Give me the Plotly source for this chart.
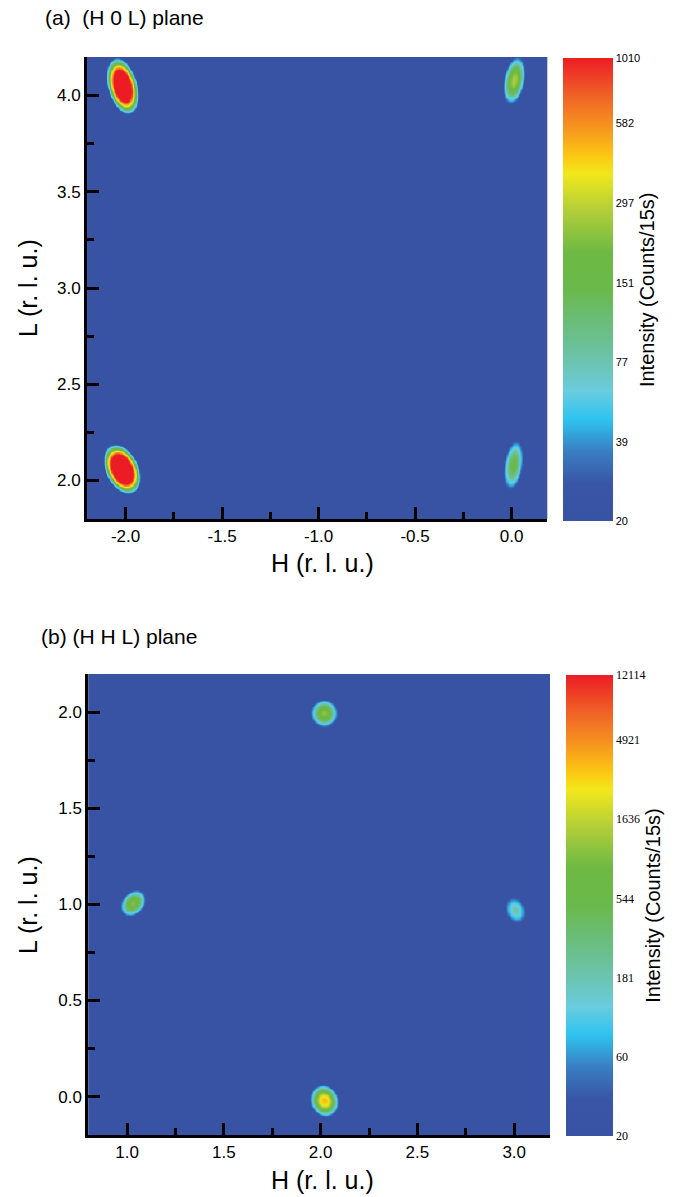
import numpy as np
import plotly.graph_objects as go

# ---------------- data ----------------
# Panel (a): (H 0 L) plane -- Bragg peaks
peak_H_a = [-2.017, -2.020, 0.012, 0.008]
peak_L_a = [4.050, 2.060, 4.080, 2.082]
peak_amp_a = [6000, 8000, 270, 150]
peak_sig_major_a = [0.045, 0.040, 0.055, 0.064]
peak_sig_minor_a = [0.023, 0.025, 0.024, 0.024]
peak_tilt_a = [-15, -25, 10, 8]          # degrees from vertical, + = top leans right
background_a = 5

# Panel (b): (H H L) plane -- Bragg peaks
peak_H_b = [2.017, 1.030, 3.005, 2.018]
peak_L_b = [1.997, 1.008, 0.972, -0.020]
peak_amp_b = [1100, 1000, 180, 3500]
peak_sig_major_b = [0.026, 0.028, 0.034, 0.027]
peak_sig_minor_b = [0.025, 0.021, 0.025, 0.023]
peak_tilt_b = [0, 40, -20, -20]
background_b = 5

# axis ranges and tick labels
H_range_a = [-2.2, 0.185]
L_range_a = [1.8, 4.2]
H_range_b = [0.8, 3.185]
L_range_b = [-0.2, 2.2]
H_ticks_a = [-2.0, -1.5, -1.0, -0.5, 0.0]
H_ticklabels_a = ["-2.0", "-1.5", "-1.0", "-0.5", "0.0"]
L_ticks_a = [2.0, 2.5, 3.0, 3.5, 4.0]
L_ticklabels_a = ["2.0", "2.5", "3.0", "3.5", "4.0"]
H_ticks_b = [1.0, 1.5, 2.0, 2.5, 3.0]
H_ticklabels_b = ["1.0", "1.5", "2.0", "2.5", "3.0"]
L_ticks_b = [0.0, 0.5, 1.0, 1.5, 2.0]
L_ticklabels_b = ["0.0", "0.5", "1.0", "1.5", "2.0"]

# colour bar ticks (log-scaled intensity)
cbar_ticks_a = [20, 39, 77, 151, 297, 582, 1010]
cbar_ticks_b = [20, 60, 181, 544, 1636, 4921, 12114]

title_a = "(a)  (H 0 L) plane"
title_b = "(b) (H H L) plane"
x_title = "H (r. l. u.)"
y_title = "L (r. l. u.)"
cbar_title = "Intensity (Counts/15s)"

# ---------------- build maps ----------------
def intensity_map(hr, lr, H, L, A, smaj, smin, tilt, bg, n=361):
    hx = np.linspace(hr[0], hr[1], n)
    ly = np.linspace(lr[0], lr[1], n)
    X, Y = np.meshgrid(hx, ly)
    I = np.full_like(X, float(bg))
    for h0, l0, a, sa, sb, t in zip(H, L, A, smaj, smin, tilt):
        th = np.deg2rad(t)
        dx, dy = X - h0, Y - l0
        u = dx * np.sin(th) + dy * np.cos(th)
        v = dx * np.cos(th) - dy * np.sin(th)
        I += a * np.exp(-0.5 * ((u / sa) ** 2 + (v / sb) ** 2))
    return hx, ly, I

hx_a, ly_a, I_a = intensity_map(H_range_a, L_range_a, peak_H_a, peak_L_a, peak_amp_a,
                                peak_sig_major_a, peak_sig_minor_a, peak_tilt_a, background_a)
hx_b, ly_b, I_b = intensity_map(H_range_b, L_range_b, peak_H_b, peak_L_b, peak_amp_b,
                                peak_sig_major_b, peak_sig_minor_b, peak_tilt_b, background_b)

zmin_a, zmax_a = np.log10(cbar_ticks_a[0]), np.log10(cbar_ticks_a[-1])
zmin_b, zmax_b = np.log10(cbar_ticks_b[0]), np.log10(cbar_ticks_b[-1])
Z_a = np.clip(np.log10(I_a), zmin_a, zmax_a)
Z_b = np.clip(np.log10(I_b), zmin_b, zmax_b)

colorscale = [
    [0.00, "#3953a4"],
    [0.08, "#3955a6"],
    [0.15, "#3a7ec2"],
    [0.22, "#2ec4f0"],
    [0.28, "#6accdf"],
    [0.36, "#6cc2a4"],
    [0.43, "#6abd78"],
    [0.50, "#6ab94c"],
    [0.58, "#6eb944"],
    [0.67, "#b1ce39"],
    [0.75, "#f1e81b"],
    [0.79, "#fcc612"],
    [0.85, "#f6951f"],
    [0.92, "#ef6126"],
    [1.00, "#ec1c24"],
]

# page is 680x1197; the body margin is removed by a post script so page px = figure px
W, Hgt = 680, 1197
SANS = "Liberation Sans, Arial, sans-serif"
SERIF = "Liberation Serif, Times New Roman, serif"

def px_x(p):
    return p / W

def px_y(p):
    return 1 - p / Hgt

fig = go.Figure()

fig.add_trace(go.Heatmap(
    x=hx_a, y=ly_a, z=Z_a, zmin=zmin_a, zmax=zmax_a, zsmooth="best",
    colorscale=colorscale, xaxis="x", yaxis="y", hoverinfo="skip",
    colorbar=dict(
        x=px_x(563), xanchor="left", xpad=0,
        y=px_y(58.3), yanchor="top", ypad=0,
        len=463, lenmode="pixels", thickness=50,
        outlinewidth=0, ticks="", ticklen=0,
        tickvals=list(np.log10(cbar_ticks_a)), ticktext=[str(t) for t in cbar_ticks_a],
        tickfont=dict(family=SANS, size=11, color="black"),
        title=dict(text=cbar_title, side="right", font=dict(family=SANS, size=20, color="black")),
    ),
))

fig.add_trace(go.Heatmap(
    x=hx_b, y=ly_b, z=Z_b, zmin=zmin_b, zmax=zmax_b, zsmooth="best",
    colorscale=colorscale, xaxis="x2", yaxis="y2", hoverinfo="skip",
    colorbar=dict(
        x=px_x(566), xanchor="left", xpad=0,
        y=px_y(675), yanchor="top", ypad=0,
        len=461, lenmode="pixels", thickness=47,
        outlinewidth=0, ticks="", ticklen=0,
        tickvals=list(np.log10(cbar_ticks_b)), ticktext=[str(t) for t in cbar_ticks_b],
        tickfont=dict(family=SERIF, size=12, color="black"),
        title=dict(text=cbar_title, side="right", font=dict(family=SANS, size=20, color="black")),
    ),
))

def axis_common(rng, domain, anchor, tv, tt, standoff):
    return dict(
        range=rng, domain=domain, anchor=anchor,
        showgrid=False, zeroline=False,
        showline=True, linecolor="black", linewidth=3, mirror=False,
        ticks="inside", ticklen=12, tickwidth=3, tickcolor="black",
        tickmode="array", tickvals=tv, ticktext=tt,
        minor=dict(ticks="inside", ticklen=7, tickwidth=3, tickcolor="black",
                   tickmode="linear", tick0=0, dtick=0.25, showgrid=False),
        tickfont=dict(family=SANS, size=17, color="black"),
        ticklabelstandoff=standoff,
    )

xa = axis_common(H_range_a, [px_x(87), px_x(547.3)], "y", H_ticks_a, H_ticklabels_a, 0)
ya = axis_common(L_range_a, [px_y(519), px_y(57)], "x", L_ticks_a, L_ticklabels_a, 0)
xb = axis_common(H_range_b, [px_x(88.3), px_x(550)], "y2", H_ticks_b, H_ticklabels_b, 0)
yb = axis_common(L_range_b, [px_y(1135), px_y(674)], "x2", L_ticks_b, L_ticklabels_b, 0)

annotations = [
    dict(text=title_a, x=px_x(43), y=px_y(17), xanchor="left", yanchor="middle",
         font=dict(family=SANS, size=21, color="black")),
    dict(text=title_b, x=px_x(39), y=px_y(636), xanchor="left", yanchor="middle",
         font=dict(family=SANS, size=21, color="black")),
    dict(text=x_title, x=px_x(322), y=px_y(563), xanchor="center", yanchor="middle",
         font=dict(family=SANS, size=25, color="black")),
    dict(text=x_title, x=px_x(322), y=px_y(1180), xanchor="center", yanchor="middle",
         font=dict(family=SANS, size=25, color="black")),
    dict(text=y_title, x=px_x(28), y=px_y(288), xanchor="center", yanchor="middle", textangle=-90,
         font=dict(family=SANS, size=25, color="black")),
    dict(text=y_title, x=px_x(28), y=px_y(905), xanchor="center", yanchor="middle", textangle=-90,
         font=dict(family=SANS, size=25, color="black")),
]
for a in annotations:
    a.update(xref="paper", yref="paper", showarrow=False)

fig.update_layout(
    width=W, height=Hgt,
    margin=dict(l=0, r=0, t=0, b=0),
    paper_bgcolor="white", plot_bgcolor="#3953a4",
    xaxis=xa, yaxis=ya, xaxis2=xb, yaxis2=yb,
    annotations=annotations,
    showlegend=False,
)

fig.write_html(
    "out.html",
    config={"displayModeBar": False, "staticPlot": True},
    post_script="document.body.style.margin='0';document.body.style.overflow='hidden';",
)
